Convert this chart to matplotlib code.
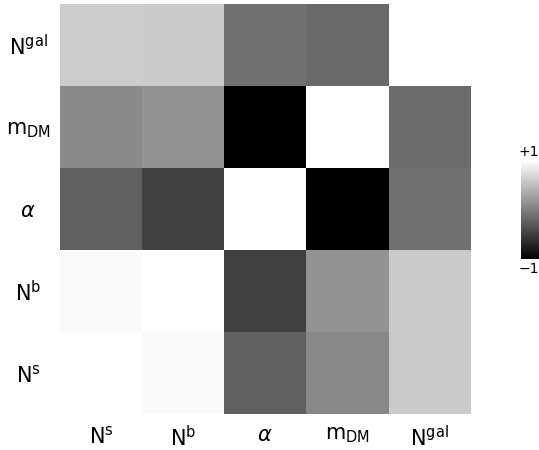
import numpy as np
import matplotlib.pyplot as plt

# parametros (mesma ordem nas linhas de baixo para cima e nas colunas)
params = [r'N$^{\rm s}$', r'N$^{\rm b}$', r'$\alpha$', r'm$_{\rm DM}$', r'N$^{\rm gal}$']

row_Ns = [1.00, 0.96, -0.25, 0.07, 0.58]
row_Nb = [0.96, 1.00, -0.48, 0.16, 0.58]
row_alpha = [-0.25, -0.48, 1.00, -1.00, -0.12]
row_mDM = [0.08, 0.15, -1.00, 1.00, -0.16]
row_Ngal = [0.60, 0.59, -0.12, -0.17, np.nan]

corr = np.array([row_Ns, row_Nb, row_alpha, row_mDM, row_Ngal])

fig = plt.figure(figsize=(5.39, 4.5), dpi=100)
ax = fig.add_axes([60/539, 36/450, 410/539, 410/450])

cmap = plt.get_cmap('gray').copy()
cmap.set_bad('white')
im = ax.imshow(np.ma.masked_invalid(corr), cmap=cmap, vmin=-1, vmax=1,
               origin='lower', aspect='auto', interpolation='nearest')

ax.set_xticks(range(len(params)))
ax.set_xticklabels(params, fontsize=15)
ax.set_yticks(range(len(params)))
ax.set_yticklabels(params, fontsize=15, ha='center')
ax.tick_params(axis='both', length=0)
ax.tick_params(axis='x', pad=8)
ax.tick_params(axis='y', pad=23)
for s in ax.spines.values():
    s.set_visible(False)

# --- barra de cores ---
cax = fig.add_axes([521/539, 191/450, 20/539, 99/450])
cb = fig.colorbar(im, cax=cax)
cb.set_ticks([])
cb.outline.set_visible(False)
fig.text(529/539, 291/450, '+1', ha='center', va='bottom', fontsize=10)
fig.text(529/539, 188/450, '\u22121', ha='center', va='top', fontsize=10)

plt.savefig('out.png', dpi=100)
